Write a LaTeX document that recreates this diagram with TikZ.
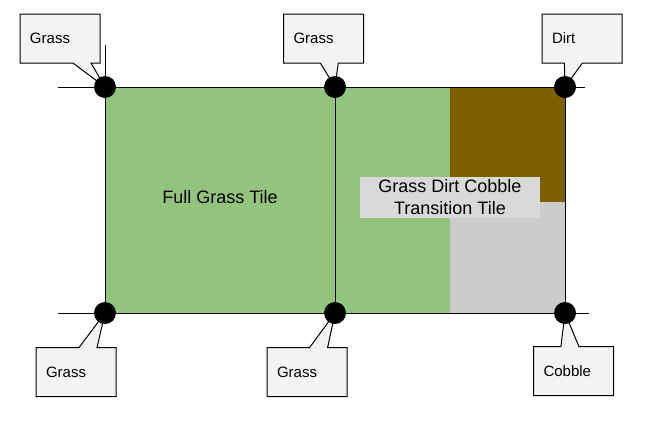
\documentclass[tikz,border=0pt]{standalone}
\usepackage{fontspec}
\setmainfont{Liberation Sans}
\usetikzlibrary{shapes, positioning, calc, backgrounds}
\definecolor{grass}{HTML}{93C47D}
\definecolor{dirt}{HTML}{7F6000}
\definecolor{cobble}{HTML}{CCCCCC}
\definecolor{notefill}{HTML}{F3F3F3}
\definecolor{labelfill}{HTML}{D9D9D9}
\tikzset{
  corner/.style={circle, fill=black, minimum size=22pt, inner sep=0},
  note/.style={rectangle callout, draw, line width=1pt, fill=notefill, text width=60pt, inner xsep=10pt, inner ysep=0pt, minimum height=49pt, align=left, font=\fontsize{15}{18}\selectfont, callout pointer width=18pt},
}
\begin{document}
\begin{tikzpicture}[x=1pt, y=-1pt, line width=1pt]
\useasboundingbox (0,0) rectangle (651,421);
%corners of the two tiles
\coordinate (tl) at (105,87);
\coordinate (tm) at (335,87);
\coordinate (tr) at (565,87);
\coordinate (bl) at (105,313);
\coordinate (bm) at (335,313);
\coordinate (br) at (565,313);
%tile fills
\fill[grass] (tl) rectangle (450,313);
\fill[dirt] (450,87) rectangle (565,202);
\fill[cobble] (450,202) rectangle (br);
%grid lines
\draw ([xshift=-47pt]tl) -- ([xshift=20pt]tr);
\draw ([xshift=-47pt]bl) -- ([xshift=24pt]br);
\draw ([yshift=42pt]tl) -- (bl);
\draw (tm) -- (bm);
\draw (tr) -- (br);
%tile labels
\node[font=\fontsize{18}{22}\selectfont] (full_tile) at (220,197) {Full Grass Tile};
\node[fill=labelfill, minimum width=180pt, minimum height=41pt, inner sep=0, align=center, font=\fontsize{18}{22}\selectfont] (transition_tile) at (450,197) {Grass Dirt Cobble\\Transition Tile};
%callouts
\node[note, callout absolute pointer={(tl)}] (note_tl) at (60,38.5) {Grass};
\node[note, callout absolute pointer={(tm)}] (note_tm) at (323.5,38.5) {Grass};
\node[note, callout absolute pointer={(tr)}] (note_tr) at (582,38.5) {Dirt};
\node[note, callout absolute pointer={(bl)}] (note_bl) at (76,372) {Grass};
\node[note, callout absolute pointer={(bm)}] (note_bm) at (307,372) {Grass};
\node[note, callout absolute pointer={(br)}] (note_br) at (573.5,371) {Cobble};
%corner dots
\node[corner] (grass_tl) at (tl) {};
\node[corner] (grass_tm) at (tm) {};
\node[corner] (dirt_tr) at (tr) {};
\node[corner] (grass_bl) at (bl) {};
\node[corner] (grass_bm) at (bm) {};
\node[corner] (cobble_br) at (br) {};
\end{tikzpicture}
\end{document}
